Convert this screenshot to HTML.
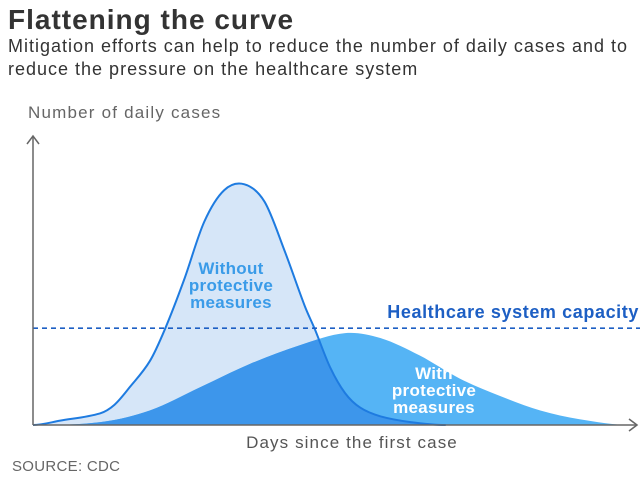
<!DOCTYPE html>
<html><head><meta charset="utf-8">
<style>
body{margin:0;background:#fff;}
svg{display:block;font-family:"Liberation Sans","DejaVu Sans",sans-serif;}
</style></head>
<body>
<svg id="chart" width="640" height="480" viewBox="0 0 640 480">
  <text x="8" y="29" font-size="28" font-weight="bold" fill="#333" letter-spacing="1">Flattening the curve</text>
  <text x="8" y="52" font-size="18" fill="#333" letter-spacing="1">Mitigation efforts can help to reduce the number of daily cases and to</text>
  <text x="8" y="75" font-size="18" fill="#333" letter-spacing="1">reduce the pressure on the healthcare system</text>
  <text x="28" y="118" font-size="17" fill="#666" letter-spacing="1.2">Number of daily cases</text>
  <defs><clipPath id="clipA"><path id="clipPathA" d=""/></clipPath></defs>
  <path id="fillA" fill="#d6e6f8"/>
  <path id="fillB" fill="#55b4f5"/>
  <path id="fillOverlap" fill="#3d96eb" clip-path="url(#clipA)"/>
  <path id="lineA" fill="none" stroke="#1e7be0" stroke-width="2"/>
  <line id="capLine" stroke="#1d5fc4" stroke-width="1.6" stroke-dasharray="5,4"/>
  <text x="639" y="318" font-size="18" font-weight="bold" fill="#1d5fc4" text-anchor="end" letter-spacing="0.6">Healthcare system capacity</text>
  <g font-size="17" font-weight="bold" fill="#3a9be8" text-anchor="middle" letter-spacing="0.3">
    <text x="231" y="274">Without</text><text x="231" y="291">protective</text><text x="231" y="308">measures</text>
  </g>
  <g font-size="17" font-weight="bold" fill="#fff" text-anchor="middle" letter-spacing="0.3">
    <text x="434" y="379">With</text><text x="434" y="396">protective</text><text x="434" y="413">measures</text>
  </g>
  <line x1="33" y1="425" x2="33" y2="136" stroke="#666" stroke-width="1.5"/>
  <path d="M27,144 L33,136 L39,144" fill="none" stroke="#666" stroke-width="1.5"/>
  <line x1="33" y1="425" x2="637" y2="425" stroke="#666" stroke-width="1.5"/>
  <path d="M629,419 L637,425 L629,431" fill="none" stroke="#666" stroke-width="1.5"/>
  <text x="352" y="448" font-size="17" fill="#555" text-anchor="middle" letter-spacing="1.1">Days since the first case</text>
  <text x="12" y="471" font-size="15" fill="#666" letter-spacing="0.3">SOURCE: CDC</text>
</svg>
<script>
const daysA = [0,2.7,6.65,8.1,9.6,11.6,13.1,15,17,19,21,23,25,27,28,29.5,31,32.5,34.5,37.5,41];
const casesA = [0,1.5,4,7,13,22,33,50,70,81,83,77,60,41,33,20,11,6,3,1,0];
const daysB = [0,6.7,11.6,16.6,21.5,26.5,31,34.5,38.4,42.4,46.4,50.4,54.3,59.3];
const casesB = [0,1,5,13,21,27.5,31.7,30,24,16,10,5,2,0];
const capacity = [33.4];

const X = d => 33 + d * (604 / 60);
const Y = v => 425 - v * 2.9;

// cubic Hermite with finite-difference slopes (handles uneven spacing smoothly)
function smooth(days, vals){
  const xs = days.map(X), ys = vals.map(Y), n = xs.length;
  const t = [];
  for(let i=0;i<n;i++){
    const a = Math.max(0,i-1), b = Math.min(n-1,i+1);
    t.push((ys[b]-ys[a])/(xs[b]-xs[a]));
  }
  t[0] = 0; t[n-1] = 0;
  let s = `M${xs[0]},${ys[0]}`;
  for(let i=0;i<n-1;i++){
    const h = (xs[i+1]-xs[i])/3;
    s += ` C${xs[i]+h},${Math.min(425,ys[i]+t[i]*h)} ${xs[i+1]-h},${Math.min(425,ys[i+1]-t[i+1]*h)} ${xs[i+1]},${ys[i+1]}`;
  }
  return s;
}
function area(days, vals){
  return smooth(days, vals) + ` L${X(days[days.length-1])},${Y(0)} L${X(days[0])},${Y(0)} Z`;
}
const lA = smooth(daysA, casesA), aA = area(daysA, casesA), aB = area(daysB, casesB);
document.getElementById('fillA').setAttribute('d', aA);
document.getElementById('clipPathA').setAttribute('d', aA);
document.getElementById('fillB').setAttribute('d', aB);
document.getElementById('fillOverlap').setAttribute('d', aB);
document.getElementById('lineA').setAttribute('d', lA);
const cl = document.getElementById('capLine');
cl.setAttribute('x1', 33); cl.setAttribute('x2', 640);
cl.setAttribute('y1', Y(capacity[0])); cl.setAttribute('y2', Y(capacity[0]));
</script>
</body></html>
